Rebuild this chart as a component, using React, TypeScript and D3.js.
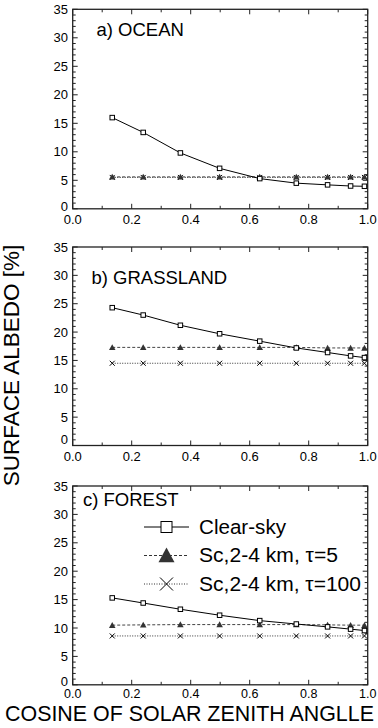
import * as d3 from 'd3';

// cosine of solar zenith angle (x positions of the computed points)
const mu = [0.134, 0.239, 0.365, 0.498, 0.634, 0.758, 0.864, 0.942, 0.989];

// a) ocean
const oceanClear = [16.0, 13.4, 9.8, 7.1, 5.3, 4.5, 4.2, 4.0, 3.95];
const oceanTau5 = [5.6, 5.6, 5.6, 5.6, 5.6, 5.6, 5.6, 5.6, 5.6];
const oceanTau100 = [5.5, 5.5, 5.5, 5.5, 5.5, 5.5, 5.5, 5.5, 5.5];

// b) grassland
const grassClear = [24.3, 23.0, 21.2, 19.7, 18.4, 17.2, 16.4, 15.8, 15.5];
const grassTau5 = [17.3, 17.3, 17.3, 17.3, 17.3, 17.3, 17.2, 17.2, 17.2];
const grassTau100 = [14.5, 14.5, 14.5, 14.5, 14.5, 14.5, 14.5, 14.5, 14.5];

// c) forest
const forestClear = [15.3, 14.4, 13.3, 12.25, 11.3, 10.7, 10.2, 9.8, 9.55];
const forestTau5 = [10.5, 10.55, 10.6, 10.6, 10.6, 10.6, 10.55, 10.5, 10.5];
const forestTau100 = [8.6, 8.6, 8.6, 8.6, 8.6, 8.6, 8.6, 8.6, 8.6];

const panelTitles = ['a) OCEAN', 'b) GRASSLAND', 'c) FOREST'];
const xTicks = [0, 0.2, 0.4, 0.6, 0.8, 1.0];
const yTicks = [0, 5, 10, 15, 20, 25, 30, 35];
const legendLabels = ['Clear-sky', 'Sc,2-4 km, \u03c4=5', 'Sc,2-4 km, \u03c4=100'];

const FONT = '"Liberation Sans", Arial, Helvetica, sans-serif';
const W = 378;
const H = 728;
const left = 72.7;
const right = 367.7;

const panels = [
  { top: 9.3, bottom: 208.8, series: [oceanClear, oceanTau5, oceanTau100], titleY: 36, titleX: 96.5, zeroShift: -2, tickDy: 15.5, tickSize: 13 },
  { top: 247, bottom: 445.5, series: [grassClear, grassTau5, grassTau100], titleY: 283.5, titleX: 91.5, zeroShift: -6, tickDy: 15.5, tickSize: 13 },
  { top: 486, bottom: 684.8, series: [forestClear, forestTau5, forestTau100], titleY: 506, titleX: 83, zeroShift: -3, tickDy: 13.5, tickSize: 12.5 },
];

const Square = ({ x, y, s }: { x: number; y: number; s: number }) => (
  <rect x={x - s / 2} y={y - s / 2} width={s} height={s} fill="#fff" stroke="#000" strokeWidth={1} />
);

const Triangle = ({ x, y, s }: { x: number; y: number; s: number }) => (
  <path d={`M${x - s / 2},${y + s * 0.42}L${x + s / 2},${y + s * 0.42}L${x},${y - s * 0.5}Z`} fill="#333" />
);

const Cross = ({ x, y, s, w }: { x: number; y: number; s: number; w: number }) => (
  <path d={`M${x - s / 2},${y - s / 2}L${x + s / 2},${y + s / 2}M${x - s / 2},${y + s / 2}L${x + s / 2},${y - s / 2}`} stroke="#000" strokeWidth={w} fill="none" />
);

const Panel = ({ p, idx }: { p: typeof panels[number]; idx: number }) => {
  const x = d3.scaleLinear().domain([0, 1]).range([left, right]);
  const y = d3.scaleLinear().domain([0, 35]).range([p.bottom, p.top]);
  const line = d3.line<number>().x((_, i) => x(mu[i])).y((d) => y(d));
  const xMinor = d3.range(0, 1.0001, 0.1);
  const yMinor = d3.range(0, 35.001, 1);
  const [clear, tau5, tau100] = p.series;

  return (
    <g>
      {/* ticks on all four sides, pointing inward */}
      {xMinor.map((t, i) => {
        const len = i % 2 === 0 ? 5 : 3;
        return (
          <g key={'xt' + i} stroke="#222" strokeWidth={1}>
            <line x1={x(t)} x2={x(t)} y1={p.bottom} y2={p.bottom - len} />
            <line x1={x(t)} x2={x(t)} y1={p.top} y2={p.top + len} />
          </g>
        );
      })}
      {yMinor.map((t, i) => {
        const len = i % 5 === 0 ? 5 : 3;
        return (
          <g key={'yt' + i} stroke="#222" strokeWidth={1}>
            <line x1={left} x2={left + len} y1={y(t)} y2={y(t)} />
            <line x1={right} x2={right - len} y1={y(t)} y2={y(t)} />
          </g>
        );
      })}
      <rect x={left} y={p.top} width={right - left} height={p.bottom - p.top} fill="none" stroke="#222" strokeWidth={1.3} />

      {xTicks.map((t) => (
        <text key={'xl' + t} x={x(t)} y={p.bottom + p.tickDy} textAnchor="middle" fontSize={p.tickSize} fontFamily={FONT} fill="#000">
          {t.toFixed(1)}
        </text>
      ))}
      {yTicks.map((t) => (
        <text key={'yl' + t} x={68} y={y(t) + (t === 0 ? p.zeroShift : 0)} dy="0.36em" textAnchor="end" fontSize={13} fontFamily={FONT} fill="#000">
          {t}
        </text>
      ))}

      <text x={p.titleX} y={p.titleY} fontSize={18.5} fontFamily={FONT} fill="#000">
        {panelTitles[idx]}
      </text>

      <path d={line(tau100) ?? ''} fill="none" stroke="#333" strokeWidth={1} strokeDasharray="1,1.5" />
      <path d={line(tau5) ?? ''} fill="none" stroke="#444" strokeWidth={1} strokeDasharray="3,2" />
      <path d={line(clear) ?? ''} fill="none" stroke="#000" strokeWidth={1} />
      {tau100.map((d, i) => (
        <Cross key={'c' + i} x={x(mu[i])} y={y(d)} s={5} w={1} />
      ))}
      {tau5.map((d, i) => (
        <Triangle key={'t' + i} x={x(mu[i])} y={y(d)} s={6.5} />
      ))}
      {clear.map((d, i) => (
        <Square key={'s' + i} x={x(mu[i])} y={y(d)} s={4.5} />
      ))}
    </g>
  );
};

const Legend = () => {
  const rows = [527, 555.5, 584];
  const widths = [87, 139, 162];
  const x1 = 144;
  const x2 = 189;
  const xm = (x1 + x2) / 2;
  return (
    <g>
      {rows.map((ry, i) => (
        <g key={'lg' + i}>
          <line
            x1={x1}
            x2={x2}
            y1={ry}
            y2={ry}
            stroke={i === 0 ? '#000' : '#333'}
            strokeWidth={1}
            strokeDasharray={i === 0 ? undefined : i === 1 ? '3,2' : '1,1.5'}
          />
          {i === 0 && <Square x={xm} y={ry} s={11} />}
          {i === 1 && <Triangle x={xm} y={ry} s={16} />}
          {i === 2 && <Cross x={xm} y={ry} s={13} w={1} />}
          <text
            x={199}
            y={ry}
            dy="0.36em"
            fontSize={19.3}
            fontFamily={FONT}
            fill="#000"
            textLength={widths[i]}
            lengthAdjust="spacingAndGlyphs"
          >
            {legendLabels[i]}
          </text>
        </g>
      ))}
    </g>
  );
};

export default function App() {
  return (
    <svg width={W} height={H} style={{ position: 'absolute', left: 0, top: 0, background: '#fff' }}>
      <rect width={W} height={H} fill="#fff" />
      {panels.map((p, i) => (
        <Panel key={i} p={p} idx={i} />
      ))}
      <Legend />
      <text
        transform="translate(19,365.5) rotate(-90)"
        textAnchor="middle"
        fontSize={22.5}
        fontFamily={FONT}
        fill="#000"
      >
        SURFACE ALBEDO [%]
      </text>
      <text x={5} y={721} fontSize={21.5} fontFamily={FONT} fill="#000" textLength={369} lengthAdjust="spacingAndGlyphs">
        COSINE OF SOLAR ZENITH ANGLLE
      </text>
    </svg>
  );
}
